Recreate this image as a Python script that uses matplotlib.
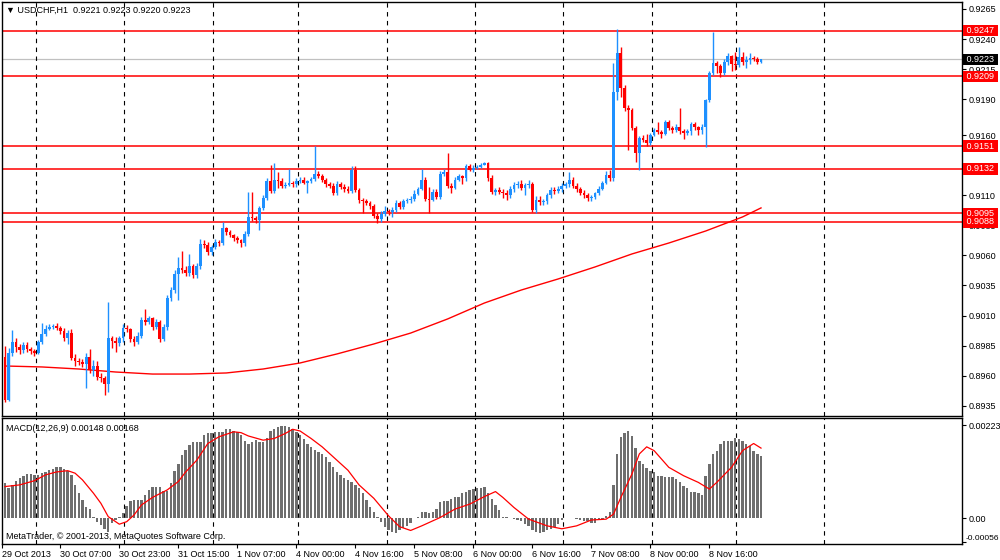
import matplotlib
matplotlib.use("Agg")
import matplotlib.pyplot as plt
import matplotlib.transforms as mtransforms

plt.rcParams['font.family'] = ['Liberation Sans', 'DejaVu Sans']

# USDCHF H1 candles
first_open = 0.89755
closes = [
    0.89397, 0.89788, 0.89880, 0.89838, 0.89813, 0.89855, 0.89821, 0.89805, 0.89788, 0.89880,
    0.89946, 0.89988, 0.90005, 0.90013, 0.89996, 0.89971, 0.89913, 0.89955, 0.89747, 0.89722,
    0.89713, 0.89697, 0.89755, 0.89647, 0.89680, 0.89589, 0.89580, 0.89530, 0.89913, 0.89888,
    0.89871, 0.89913, 0.89996, 0.89988, 0.89905, 0.89880, 0.89930, 0.90063, 0.90046, 0.90079,
    0.90005, 0.90046, 0.89905, 0.90005, 0.90246, 0.90312, 0.90445, 0.90495, 0.90479, 0.90454,
    0.90512, 0.90437, 0.90512, 0.90695, 0.90687, 0.90628, 0.90670, 0.90712, 0.90703, 0.90828,
    0.90795, 0.90770, 0.90745, 0.90728, 0.90703, 0.90778, 0.90920, 0.90911, 0.90895, 0.90995,
    0.91078, 0.91219, 0.91136, 0.91227, 0.91219, 0.91178, 0.91186, 0.91202, 0.91194, 0.91219,
    0.91227, 0.91202, 0.91219, 0.91236, 0.91277, 0.91261, 0.91227, 0.91194, 0.91178, 0.91119,
    0.91194, 0.91169, 0.91153, 0.91136, 0.91311, 0.91144, 0.91061, 0.91053, 0.91036, 0.91011,
    0.90928, 0.90903, 0.90945, 0.90970, 0.90961, 0.90978, 0.91036, 0.91003, 0.91053, 0.91061,
    0.91069, 0.91111, 0.91153, 0.91227, 0.91069, 0.91061, 0.91128, 0.91086, 0.91277, 0.91294,
    0.91178, 0.91161, 0.91227, 0.91261, 0.91244, 0.91344, 0.91311, 0.91327, 0.91336, 0.91352,
    0.91369, 0.91244, 0.91128, 0.91144, 0.91128, 0.91119, 0.91103, 0.91153, 0.91186, 0.91194,
    0.91161, 0.91186, 0.91194, 0.90978, 0.91061, 0.91044, 0.91053, 0.91103, 0.91144, 0.91136,
    0.91153, 0.91178, 0.91194, 0.91227, 0.91178, 0.91153, 0.91119, 0.91103, 0.91078, 0.91086,
    0.91119, 0.91153, 0.91202, 0.91269, 0.91244, 0.91960, 0.92284, 0.91993, 0.91826, 0.91810,
    0.91660, 0.91452, 0.91577, 0.91560, 0.91535, 0.91602, 0.91643, 0.91627, 0.91610, 0.91710,
    0.91660, 0.91643, 0.91668, 0.91635, 0.91618, 0.91635, 0.91693, 0.91668, 0.91643, 0.91668,
    0.91893, 0.92118, 0.92201, 0.92176, 0.92118, 0.92209, 0.92259, 0.92192, 0.92184, 0.92251,
    0.92209, 0.92226, 0.92242, 0.92234, 0.92210, 0.92230,
]
highs = [
    0.8985, 0.8983, 0.8998, 0.8991, 0.8986, 0.8988, 0.8988, 0.8984, 0.8982, 0.8990,
    0.9004, 0.9002, 0.9003, 0.9003, 0.9004, 0.9001, 0.9000, 0.8998, 0.8999, 0.8978,
    0.8975, 0.8974, 0.8979, 0.8982, 0.8973, 0.8972, 0.8962, 0.8960, 0.9021, 0.8993,
    0.8992, 0.8993, 0.9003, 0.9002, 0.9000, 0.8993, 0.8996, 0.9009, 0.9015, 0.9010,
    0.9009, 0.9007, 0.9006, 0.9003, 0.9027, 0.9034, 0.9048, 0.9059, 0.9064, 0.9051,
    0.9061, 0.9053, 0.9054, 0.9074, 0.9073, 0.9071, 0.9069, 0.9074, 0.9073, 0.9088,
    0.9084, 0.9081, 0.9078, 0.9076, 0.9074, 0.9080, 0.9113, 0.9113, 0.9093, 0.9101,
    0.9110, 0.9124, 0.9135, 0.9137, 0.9129, 0.9124, 0.9121, 0.9132, 0.9122, 0.9124,
    0.9125, 0.9125, 0.9123, 0.9125, 0.9151, 0.9130, 0.9128, 0.9124, 0.9121, 0.9120,
    0.9122, 0.9121, 0.9119, 0.9118, 0.9134, 0.9134, 0.9116, 0.9108, 0.9107, 0.9105,
    0.9103, 0.9095, 0.9097, 0.9101, 0.9099, 0.9100, 0.9106, 0.9105, 0.9107, 0.9108,
    0.9109, 0.9114, 0.9117, 0.9132, 0.9125, 0.9117, 0.9115, 0.9115, 0.9130, 0.9132,
    0.9145, 0.9120, 0.9125, 0.9128, 0.9127, 0.9136, 0.9136, 0.9135, 0.9135, 0.9137,
    0.9138, 0.9138, 0.9127, 0.9116, 0.9117, 0.9115, 0.9114, 0.9118, 0.9121, 0.9122,
    0.9123, 0.9120, 0.9123, 0.9121, 0.9109, 0.9109, 0.9107, 0.9112, 0.9117, 0.9117,
    0.9118, 0.9120, 0.9121, 0.9129, 0.9125, 0.9120, 0.9117, 0.9114, 0.9112, 0.9110,
    0.9113, 0.9118, 0.9122, 0.9130, 0.9131, 0.9220, 0.9248, 0.9233, 0.9202, 0.9185,
    0.9183, 0.9168, 0.9159, 0.9160, 0.9161, 0.9162, 0.9166, 0.9171, 0.9164, 0.9173,
    0.9173, 0.9168, 0.9169, 0.9183, 0.9165, 0.9165, 0.9171, 0.9171, 0.9168, 0.9169,
    0.9190, 0.9213, 0.9246, 0.9222, 0.9219, 0.9223, 0.9228, 0.9227, 0.9229, 0.9233,
    0.9229, 0.9226, 0.9228, 0.9226, 0.9225, 0.9223,
]
lows = [
    0.8938, 0.8939, 0.8976, 0.8980, 0.8978, 0.8979, 0.8980, 0.8978, 0.8976, 0.8978,
    0.8986, 0.8993, 0.8998, 0.8999, 0.8998, 0.8995, 0.8989, 0.8986, 0.8973, 0.8968,
    0.8969, 0.8967, 0.8950, 0.8962, 0.8960, 0.8956, 0.8955, 0.8944, 0.8946, 0.8983,
    0.8980, 0.8985, 0.8988, 0.8996, 0.8988, 0.8985, 0.8986, 0.8991, 0.9002, 0.9003,
    0.8998, 0.8999, 0.8988, 0.8989, 0.8998, 0.9022, 0.9029, 0.9023, 0.9045, 0.9043,
    0.9043, 0.9041, 0.9041, 0.9049, 0.9066, 0.9060, 0.9060, 0.9065, 0.9068, 0.9069,
    0.9077, 0.9075, 0.9072, 0.9070, 0.9067, 0.9068, 0.9076, 0.9089, 0.9087, 0.9081,
    0.9098, 0.9106, 0.9112, 0.9112, 0.9116, 0.9116, 0.9116, 0.9118, 0.9117, 0.9117,
    0.9120, 0.9119, 0.9112, 0.9120, 0.9122, 0.9124, 0.9121, 0.9117, 0.9116, 0.9110,
    0.9110, 0.9115, 0.9113, 0.9112, 0.9112, 0.9113, 0.9104, 0.9095, 0.9102, 0.9099,
    0.9091, 0.9087, 0.9088, 0.9093, 0.9094, 0.9092, 0.9096, 0.9099, 0.9099, 0.9104,
    0.9104, 0.9105, 0.9110, 0.9114, 0.9105, 0.9095, 0.9105, 0.9107, 0.9107, 0.9126,
    0.9116, 0.9112, 0.9115, 0.9122, 0.9119, 0.9122, 0.9130, 0.9129, 0.9132, 0.9133,
    0.9135, 0.9122, 0.9111, 0.9110, 0.9111, 0.9108, 0.9106, 0.9108, 0.9113, 0.9116,
    0.9114, 0.9110, 0.9116, 0.9096, 0.9095, 0.9102, 0.9102, 0.9103, 0.9108, 0.9111,
    0.9112, 0.9113, 0.9116, 0.9117, 0.9116, 0.9113, 0.9110, 0.9108, 0.9105, 0.9105,
    0.9107, 0.9110, 0.9114, 0.9119, 0.9122, 0.9122, 0.9189, 0.9192, 0.9180, 0.9148,
    0.9164, 0.9138, 0.9131, 0.9154, 0.9151, 0.9152, 0.9159, 0.9161, 0.9158, 0.9160,
    0.9164, 0.9162, 0.9163, 0.9161, 0.9157, 0.9160, 0.9160, 0.9164, 0.9160, 0.9161,
    0.9150, 0.9188, 0.9210, 0.9212, 0.9208, 0.9210, 0.9218, 0.9213, 0.9214, 0.9217,
    0.9218, 0.9216, 0.9219, 0.9222, 0.9219, 0.9220,
]
opens = [first_open] + closes[:-1]

# moving average line (sampled along the bars)
ma_idx = [0, 10, 20, 30, 40, 50, 60, 70, 80, 90, 100, 110, 120, 130, 140,
          150, 160, 170, 180, 190, 200, 205]
ma_val = [0.89680, 0.89672, 0.89655, 0.89630, 0.89613, 0.89613, 0.89622, 0.89655,
          0.89705, 0.89780, 0.89863, 0.89954, 0.90071, 0.90204, 0.90312, 0.90404,
          0.90504, 0.90612, 0.90703, 0.90803, 0.90920, 0.90995]

# horizontal levels
levels = [0.9247, 0.9209, 0.9151, 0.9132, 0.9095, 0.9088]
bid = 0.9223

# MACD(12,26,9) histogram and signal line
macd_hist = [
    0.00084, 0.00072, 0.00080, 0.00090, 0.00096, 0.00101, 0.00106, 0.00106, 0.00104, 0.00104,
    0.00108, 0.00111, 0.00115, 0.00119, 0.00122, 0.00122, 0.00119, 0.00114, 0.00104, 0.00080,
    0.00060, 0.00045, 0.00028, 0.00022, 0.00004, -0.00008, -0.00016, -0.00026, -0.00032, -0.00012,
    -0.00004, 0.00002, 0.00012, 0.00029, 0.00042, 0.00044, 0.00044, 0.00044, 0.00056, 0.00068,
    0.00074, 0.00074, 0.00074, 0.00065, 0.00065, 0.00084, 0.00113, 0.00131, 0.00151, 0.00163,
    0.00175, 0.00183, 0.00183, 0.00183, 0.00199, 0.00205, 0.00205, 0.00207, 0.00207, 0.00207,
    0.00213, 0.00213, 0.00209, 0.00207, 0.00199, 0.00186, 0.00179, 0.00183, 0.00187, 0.00183,
    0.00183, 0.00191, 0.00209, 0.00213, 0.00219, 0.00221, 0.00221, 0.00219, 0.00213, 0.00207,
    0.00199, 0.00189, 0.00179, 0.00170, 0.00163, 0.00159, 0.00154, 0.00147, 0.00135, 0.00123,
    0.00111, 0.00104, 0.00096, 0.00092, 0.00088, 0.00080, 0.00072, 0.00060, 0.00045, 0.00028,
    0.00016, 0.00004, -0.00008, -0.00020, -0.00028, -0.00032, -0.00034, -0.00029, -0.00024, -0.00018,
    -0.00010, 0.00001, 0.00004, 0.00016, 0.00014, 0.00012, 0.00014, 0.00022, 0.00038, 0.00041,
    0.00041, 0.00046, 0.00050, 0.00052, 0.00060, 0.00062, 0.00068, 0.00070, 0.00072, 0.00072,
    0.00074, 0.00060, 0.00046, 0.00033, 0.00020, 0.00004, 0.00002, 0.00001, -0.00001, -0.00004,
    -0.00007, -0.00014, -0.00018, -0.00029, -0.00033, -0.00036, -0.00033, -0.00028, -0.00025, -0.00020,
    -0.00014, -0.00004, 0.00001, 0.00001, 0.00001, -0.00001, -0.00004, -0.00006, -0.00006, -0.00012,
    -0.00010, -0.00004, -0.00002, 0.00006, 0.00014, 0.00080, 0.00155, 0.00195, 0.00205, 0.00209,
    0.00198, 0.00168, 0.00138, 0.00130, 0.00120, 0.00114, 0.00110, 0.00102, 0.00102, 0.00098,
    0.00098, 0.00098, 0.00094, 0.00086, 0.00078, 0.00072, 0.00062, 0.00062, 0.00060, 0.00057,
    0.00102, 0.00130, 0.00154, 0.00162, 0.00178, 0.00186, 0.00186, 0.00186, 0.00192, 0.00190,
    0.00186, 0.00178, 0.00174, 0.00160, 0.00155, 0.00148,
]
sig_idx = [0, 4, 8, 11, 14, 17, 19, 21, 24, 26, 28, 31, 33, 35, 37, 40, 44, 47, 49, 52,
           55, 58, 62, 64, 66, 70, 73, 76, 78, 80, 83, 86, 89, 93, 96, 100, 104, 107, 110,
           113, 118, 122, 126, 130, 133, 135, 138, 142, 147, 151, 155, 159, 163, 165, 167,
           170, 172, 174, 176, 180, 184, 188, 191, 193, 197, 200, 203, 205]
sig_val = [0.00076, 0.00080, 0.00090, 0.00104, 0.00111, 0.00114, 0.00108, 0.00092, 0.00060,
           0.00036, 0.00004, -0.00014, -0.00008, 0.00008, 0.00032, 0.00050, 0.00068, 0.00088,
           0.00111, 0.00139, 0.00179, 0.00195, 0.00207, 0.00205, 0.00197, 0.00187, 0.00191,
           0.00203, 0.00213, 0.00209, 0.00191, 0.00171, 0.00147, 0.00115, 0.00080, 0.00048,
           0.00006, -0.00020, -0.00029, -0.00018, 0.00002, 0.00022, 0.00034, 0.00052, 0.00064,
           0.00050, 0.00026, -0.00002, -0.00018, -0.00025, -0.00018, -0.00004, -0.00002,
           0.00010, 0.00050, 0.00106, 0.00154, 0.00171, 0.00162, 0.00122, 0.00102, 0.00086,
           0.00070, 0.00086, 0.00122, 0.00162, 0.00179, 0.00168]

# time axis labels
time_idx = [-0.7, 15, 31, 47, 63, 79, 95, 111, 127, 143, 159, 175, 191]
time_lbl = ['29 Oct 2013', '30 Oct 07:00', '30 Oct 23:00', '31 Oct 15:00', '1 Nov 07:00',
            '4 Nov 00:00', '4 Nov 16:00', '5 Nov 08:00', '6 Nov 00:00', '6 Nov 16:00',
            '7 Nov 08:00', '8 Nov 00:00', '8 Nov 16:00']
grid_x = [8.4, 32.35, 56.5, 79.4, 103.5, 127.45, 151.4, 175.35, 198.25, 222.2]

price_ticks = [0.9265, 0.9240, 0.9215, 0.9190, 0.9160, 0.9135, 0.9110, 0.9085,
               0.9060, 0.9035, 0.9010, 0.8985, 0.8960, 0.8935]

BLUE = '#1E90FF'
RED = '#FF0000'
FS = 6.5

fig = plt.figure(figsize=(10, 5.6), dpi=100)
ax = fig.add_axes([0.002, 0.25714, 0.96, 0.73929])
ax2 = fig.add_axes([0.002, 0.028571, 0.96, 0.225])

xmin, xmax = -0.81, 259.5

# candles
n = len(closes)
for i in range(n):
    o, c, h, l = opens[i], closes[i], highs[i], lows[i]
    col = BLUE if c > o else RED
    ax.vlines(i, l, h, color=col, linewidth=1.0, zorder=3)
    body = abs(c - o)
    if body < 0.00003:
        body = 0.00003
    ax.bar(i, body, bottom=min(o, c), width=0.75, color=col, linewidth=0, zorder=4)

ax.plot(ma_idx, ma_val, color=RED, linewidth=1.0, zorder=2)

for lv in levels:
    ax.axhline(lv, color=RED, linewidth=1.3, alpha=0.85, zorder=2)
ax.axhline(bid, color='#C0C0C0', linewidth=0.9, zorder=1)

for gx in grid_x:
    ax.axvline(gx, color='black', linewidth=0.8, dashes=(4, 4), zorder=1)
    ax2.axvline(gx, color='black', linewidth=0.8, dashes=(4, 4), zorder=1)

ax.set_xlim(xmin, xmax)
ax.set_ylim(0.89264, 0.92708)
ax.yaxis.tick_right()
ax.set_yticks(price_ticks)
ax.set_yticklabels(['%.4f' % t for t in price_ticks])
ax.tick_params(axis='y', direction='out', length=3, width=0.8, pad=2, labelsize=FS)
ax.set_xticks([])

trans = mtransforms.blended_transform_factory(ax.transAxes, ax.transData)
for lv in levels:
    ax.text(1.002, lv, ' %.4f ' % lv, transform=trans, color='white', fontsize=FS,
            va='center', ha='left', zorder=10, clip_on=False,
            bbox=dict(facecolor=RED, edgecolor='none', pad=0.9))
ax.text(1.002, bid, ' %.4f ' % bid, transform=trans, color='white', fontsize=FS,
        va='center', ha='left', zorder=10, clip_on=False,
        bbox=dict(facecolor='black', edgecolor='none', pad=0.9))

ax.text(0.004, 0.981, '\u25bc USDCHF,H1  0.9221 0.9223 0.9220 0.9223', transform=ax.transAxes,
        fontsize=FS, va='center', ha='left', color='black')

# MACD window
ax2.bar(range(n), macd_hist, width=0.65, color='#6E6E6E', linewidth=0, zorder=3)
ax2.plot(sig_idx, sig_val, color=RED, linewidth=0.9, zorder=4)
ax2.set_xlim(xmin, xmax)
ax2.set_ylim(-0.000614, 0.00240)
ax2.yaxis.tick_right()
ax2.set_yticks([0.00223, 0.0, -0.00056])
ax2.set_yticklabels(['0.00223', '0.00', ''])
ax2.tick_params(axis='y', direction='out', length=3, width=0.8, pad=2, labelsize=FS)
trans2 = mtransforms.blended_transform_factory(ax2.transAxes, ax2.transData)
ax2.text(1.004, -0.00056, '-0.00056', transform=trans2, fontsize=6.0, va='bottom',
         ha='left', clip_on=False)
ax2.set_xticks(time_idx)
ax2.set_xticklabels(time_lbl)
ax2.tick_params(axis='x', direction='out', length=3, width=0.8, pad=1, labelsize=FS)
for lab in ax2.get_xticklabels():
    lab.set_ha('left')

ax2.text(0.004, 0.92, 'MACD(12,26,9) 0.00148 0.00168', transform=ax2.transAxes,
         fontsize=FS, va='center', ha='left', color='black')
ax2.text(0.004, 0.056, 'MetaTrader, \u00a9 2001-2013, MetaQuotes Software Corp.',
         transform=ax2.transAxes, fontsize=FS, va='center', ha='left', color='black')

for a in (ax, ax2):
    for sp in a.spines.values():
        sp.set_linewidth(1.0)
        sp.set_color('black')

fig.savefig('out.png', dpi=100, facecolor='white')
